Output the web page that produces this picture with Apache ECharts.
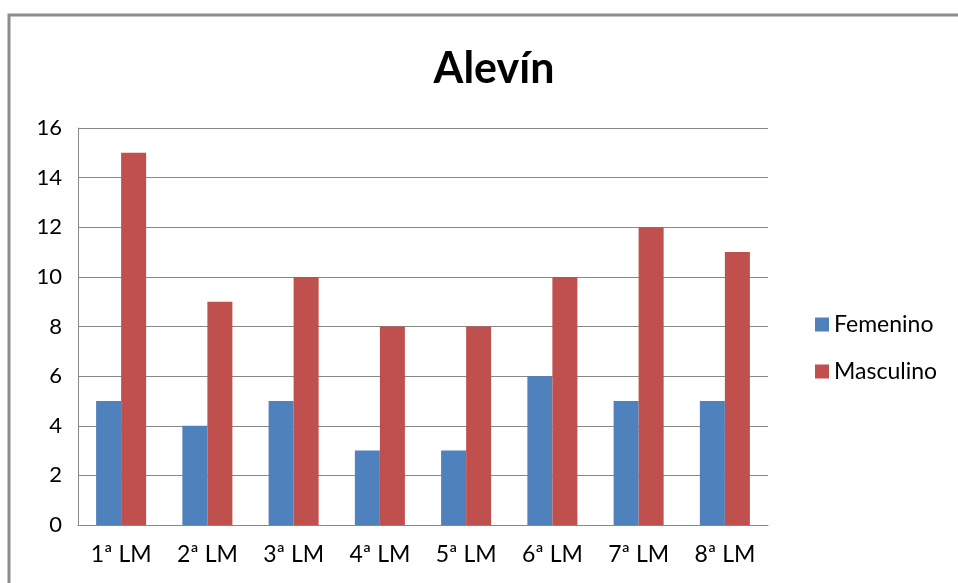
<!DOCTYPE html>
<html><head><meta charset="utf-8">
<script src="https://cdn.jsdelivr.net/npm/echarts@6/dist/echarts.min.js"></script>
<style>html,body{margin:0;padding:0;background:#fff}#c{width:958px;height:583px}</style>
</head><body><div id="c"></div>
<script>
const categories = ['1ª LM','2ª LM','3ª LM','4ª LM','5ª LM','6ª LM','7ª LM','8ª LM'];
const femenino = [5,4,5,3,3,6,5,5];
const masculino = [15,9,10,8,8,10,12,11];
const yTicks = {min:0,max:16,interval:2};

const chart = echarts.init(document.getElementById('c'));
const font = 'Lato, "Open Sans", sans-serif';
chart.setOption({
  animation:false,
  backgroundColor:'#fff',
  graphic:[{type:'rect',shape:{x:9,y:15,width:1000,height:700},style:{fill:'none',stroke:'#8c8c8c',lineWidth:3},silent:true}],
  title:{text:'Alevín',left:489,top:43,textAlign:'center',textStyle:{fontFamily:font,fontSize:43,fontWeight:'bold',color:'#000'}},
  legend:{orient:'vertical',left:810,top:308,itemWidth:14,itemHeight:14,itemGap:24,icon:'rect',
    textStyle:{fontFamily:font,fontSize:23,color:'#000'},data:['Femenino','Masculino']},
  grid:{left:78,right:190,top:128,bottom:58},
  xAxis:{type:'category',data:categories,
    axisLine:{show:true,lineStyle:{color:'#888',width:1}},axisTick:{show:false},
    axisLabel:{fontFamily:font,fontSize:23,color:'#000',margin:18}},
  yAxis:{type:'value',min:yTicks.min,max:yTicks.max,interval:yTicks.interval,
    axisLine:{show:true,lineStyle:{color:'#888'}},axisTick:{show:false},
    splitLine:{lineStyle:{color:'#888',width:1}},
    axisLabel:{fontFamily:font,fontSize:22,color:'#000',margin:16}},
  series:[
    {name:'Femenino',type:'bar',data:femenino,itemStyle:{color:'#4f81bd'},barGap:'0%',barCategoryGap:'42%'},
    {name:'Masculino',type:'bar',data:masculino,itemStyle:{color:'#c0504d'},barGap:'0%',barCategoryGap:'42%'}
  ]
});
</script></body></html>
